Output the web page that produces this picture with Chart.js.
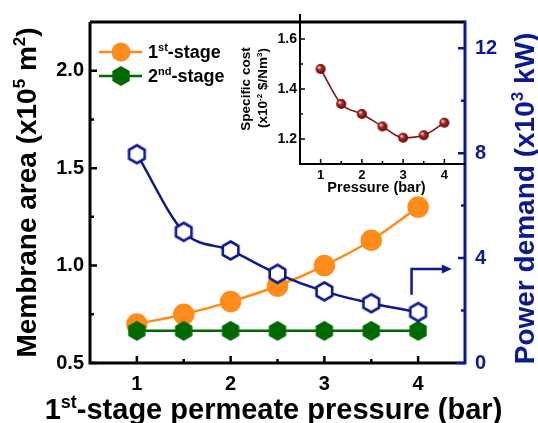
<!DOCTYPE html>
<html>
<head>
<meta charset="utf-8">
<script src="https://cdn.jsdelivr.net/npm/chart.js@4.4.1/dist/chart.umd.min.js"></script>
<style>
  body { margin: 0; background: #fff; }
  #wrap { position: relative; width: 538px; height: 423px; }
  #wrap canvas { position: absolute; left: 0; top: 0; }
</style>
</head>
<body>
<div id="wrap">
  <canvas id="main" width="538" height="423"></canvas>
  <canvas id="inset" width="538" height="423"></canvas>
</div>
<script>
// data
const pressure = [1, 1.5, 2, 2.5, 3, 3.5, 4];
const area1st = [0.70, 0.75, 0.815, 0.895, 1.00, 1.13, 1.30];
const area2nd = [0.665, 0.665, 0.665, 0.665, 0.665, 0.665, 0.665];
const powerDemand = [7.96, 5.00, 4.29, 3.40, 2.73, 2.28, 1.94];

const insetPressure = [1, 1.5, 2, 2.5, 3, 3.5, 4];
const specificCost = [1.48, 1.34, 1.30, 1.25, 1.205, 1.215, 1.265];

// tick labels
const xTicks = [1, 2, 3, 4];
const xMinor = [1.5, 2.5, 3.5];
const areaTicks = [0.5, 1.0, 1.5, 2.0];
const areaMinor = [0.75, 1.25, 1.75];
const powerTicks = [0, 4, 8, 12];
const powerMinor = [2, 6, 10];
const insetXTicks = [1, 2, 3, 4];
const insetXMinor = [1.5, 2.5, 3.5];
const insetYTicks = [1.2, 1.4, 1.6];
const insetYMinor = [1.3, 1.5];

// arrow pointing at the power axis, in (pressure, power) units
const arrowPath = [[3.93, 2.6], [3.93, 3.58], [4.36, 3.58]];

const ORANGE = "#ff8c1a";
const GREEN = "#006a00";
const BLUE = "#0d1a8c";
const DARKRED = "#8a1212";
const FONT = '"Liberation Sans", Arial, sans-serif';

Chart.defaults.font.family = FONT;
Chart.defaults.font.weight = "bold";

const useTicks = (list) => (s) => { s.ticks = list.map((v) => ({ value: v })); };

function hexagon(r, fill, stroke, lw) {
  const s = Math.ceil(2 * r + lw + 2);
  const c = document.createElement("canvas");
  c.width = c.height = s;
  const g = c.getContext("2d");
  g.beginPath();
  for (let i = 0; i < 6; i++) {
    const a = (Math.PI / 3) * i - Math.PI / 2;
    g.lineTo(s / 2 + r * Math.cos(a), s / 2 + r * Math.sin(a));
  }
  g.closePath();
  g.fillStyle = fill;
  g.fill();
  if (stroke) {
    g.lineWidth = lw;
    g.strokeStyle = stroke;
    g.stroke();
  }
  return c;
}

function sphere(r, color) {
  const s = 2 * r + 2;
  const c = document.createElement("canvas");
  c.width = c.height = s;
  const g = c.getContext("2d");
  const grad = g.createRadialGradient(s / 2 - r * 0.35, s / 2 - r * 0.35, 0.5, s / 2, s / 2, r);
  grad.addColorStop(0, "#f4d0d0");
  grad.addColorStop(0.35, "#b02a2a");
  grad.addColorStop(1, color);
  g.beginPath();
  g.arc(s / 2, s / 2, r, 0, Math.PI * 2);
  g.fillStyle = grad;
  g.fill();
  return c;
}

const greenHex = hexagon(10, GREEN, null, 0);
const blueHex = hexagon(9, "#fff", BLUE, 2.6);
const redBall = sphere(5, "#5a0606");

// text with superscripts: parts = [[text, isSup], ...]
function richText(ctx, parts, size, x, y, align, color, rot) {
  ctx.save();
  ctx.translate(x, y);
  if (rot) ctx.rotate(rot);
  ctx.fillStyle = color;
  ctx.textBaseline = "alphabetic";
  ctx.textAlign = "left";
  const font = (sup) => `bold ${sup ? Math.round(size * 0.62) : size}px ${FONT}`;
  let w = 0;
  parts.forEach((p) => {
    ctx.font = font(p[1]);
    w += ctx.measureText(p[0]).width;
  });
  let cx = align === "center" ? -w / 2 : 0;
  parts.forEach((p) => {
    ctx.font = font(p[1]);
    ctx.fillText(p[0], cx, p[1] ? -size * 0.38 : 0);
    cx += ctx.measureText(p[0]).width;
  });
  ctx.restore();
}

function inwardTicks(ctx, chart, scaleId, side, vals, len) {
  const a = chart.chartArea;
  const s = chart.scales[scaleId];
  ctx.beginPath();
  vals.forEach((v) => {
    const p = s.getPixelForValue(v);
    if (side === "bottom") { ctx.moveTo(p, a.bottom); ctx.lineTo(p, a.bottom - len); }
    if (side === "left") { ctx.moveTo(a.left, p); ctx.lineTo(a.left + len, p); }
    if (side === "right") { ctx.moveTo(a.right, p); ctx.lineTo(a.right - len, p); }
  });
  ctx.stroke();
}

const mainDecor = {
  id: "mainDecor",
  afterDraw(chart) {
    const ctx = chart.ctx;
    const a = chart.chartArea;
    const { x, y2 } = chart.scales;
    ctx.save();

    // ticks
    ctx.lineWidth = 2.5;
    ctx.strokeStyle = "#000";
    inwardTicks(ctx, chart, "x", "bottom", xTicks, 7);
    inwardTicks(ctx, chart, "x", "bottom", xMinor, 4);
    inwardTicks(ctx, chart, "y", "left", areaTicks, 7);
    inwardTicks(ctx, chart, "y", "left", areaMinor, 4);
    ctx.strokeStyle = BLUE;
    inwardTicks(ctx, chart, "y2", "right", powerTicks, 7);
    inwardTicks(ctx, chart, "y2", "right", powerMinor, 4);

    // frame
    ctx.lineWidth = 3;
    ctx.strokeStyle = "#000";
    ctx.beginPath();
    ctx.moveTo(a.left, a.top);
    ctx.lineTo(a.right, a.top);
    ctx.moveTo(a.left, a.top);
    ctx.lineTo(a.left, a.bottom);
    ctx.lineTo(a.right - 8, a.bottom);
    ctx.stroke();
    ctx.strokeStyle = BLUE;
    ctx.beginPath();
    ctx.moveTo(a.right, a.top - 1.5);
    ctx.lineTo(a.right, a.bottom);
    ctx.lineTo(a.right - 9, a.bottom);
    ctx.stroke();

    // arrow
    ctx.lineWidth = 2.5;
    ctx.strokeStyle = BLUE;
    ctx.fillStyle = BLUE;
    const pts = arrowPath.map((p) => [x.getPixelForValue(p[0]), y2.getPixelForValue(p[1])]);
    const tip = pts[pts.length - 1];
    ctx.beginPath();
    ctx.moveTo(pts[0][0], pts[0][1]);
    ctx.lineTo(pts[1][0], pts[1][1]);
    ctx.lineTo(tip[0] - 8, tip[1]);
    ctx.stroke();
    ctx.beginPath();
    ctx.moveTo(tip[0], tip[1]);
    ctx.lineTo(tip[0] - 10, tip[1] - 4.5);
    ctx.lineTo(tip[0] - 10, tip[1] + 4.5);
    ctx.closePath();
    ctx.fill();

    // legend
    const legend = [
      { y: 52, color: ORANGE, mark: "circle", label: [["1", 0], ["st", 1], ["-stage", 0]] },
      { y: 76, color: GREEN, mark: greenHex, label: [["2", 0], ["nd", 1], ["-stage", 0]] },
    ];
    legend.forEach((l) => {
      ctx.strokeStyle = l.color;
      ctx.lineWidth = 2.5;
      ctx.beginPath();
      ctx.moveTo(99, l.y);
      ctx.lineTo(142, l.y);
      ctx.stroke();
      if (l.mark === "circle") {
        ctx.fillStyle = l.color;
        ctx.beginPath();
        ctx.arc(121, l.y, 9.5, 0, Math.PI * 2);
        ctx.fill();
      } else {
        ctx.drawImage(l.mark, 121 - l.mark.width / 2, l.y - l.mark.height / 2);
      }
      richText(ctx, l.label, 18, 148, l.y + 6, "left", "#000");
    });

    // axis titles
    richText(ctx, [["1", 0], ["st", 1], ["-stage permeate pressure (bar)", 0]], 29,
      (a.left + a.right) / 2 - 4, 419, "center", "#000");
    richText(ctx, [["Membrane area (x10", 0], ["5", 1], [" m", 0], ["2", 1], [")", 0]], 28,
      36, (a.top + a.bottom) / 2, "center", "#000", -Math.PI / 2);
    richText(ctx, [["Power demand (x10", 0], ["3", 1], [" kW)", 0]], 28,
      534, (a.top + a.bottom) / 2 + 6, "center", BLUE, -Math.PI / 2);

    ctx.restore();
  },
};

const insetDecor = {
  id: "insetDecor",
  afterDraw(chart) {
    const ctx = chart.ctx;
    const a = chart.chartArea;
    ctx.save();
    ctx.lineWidth = 1.5;
    ctx.strokeStyle = "#000";
    inwardTicks(ctx, chart, "x", "bottom", insetXTicks, 5);
    inwardTicks(ctx, chart, "x", "bottom", insetXMinor, 3);
    inwardTicks(ctx, chart, "y", "left", insetYTicks, 5);
    inwardTicks(ctx, chart, "y", "left", insetYMinor, 3);
    ctx.lineWidth = 2;
    ctx.beginPath();
    ctx.moveTo(a.left, a.top);
    ctx.lineTo(a.left, a.bottom);
    ctx.lineTo(a.right, a.bottom);
    ctx.stroke();

    richText(ctx, [["Pressure (bar)", 0]], 14.5, (a.left + a.right) / 2 - 6, 192, "center", "#000");
    richText(ctx, [["Specific cost", 0]], 13.5, 250, 89, "center", "#000", -Math.PI / 2);
    richText(ctx, [["(x10", 0], ["-2", 1], [" $/Nm", 0], ["3", 1], [")", 0]], 13.5,
      267, 88, "center", "#000", -Math.PI / 2);
    ctx.restore();
  },
};

const xy = (xs, ys) => xs.map((v, i) => ({ x: v, y: ys[i] }));

new Chart(document.getElementById("main"), {
  type: "line",
  data: {
    datasets: [
      {
        label: "Power demand",
        data: xy(pressure, powerDemand),
        yAxisID: "y2",
        borderColor: BLUE,
        borderWidth: 2.5,
        pointStyle: blueHex,
        tension: 0.4,
        cubicInterpolationMode: "monotone",
      },
      {
        label: "2nd-stage",
        data: xy(pressure, area2nd),
        yAxisID: "y",
        borderColor: GREEN,
        borderWidth: 2.5,
        pointStyle: greenHex,
      },
      {
        label: "1st-stage",
        data: xy(pressure, area1st),
        yAxisID: "y",
        borderColor: ORANGE,
        backgroundColor: ORANGE,
        borderWidth: 2.5,
        pointStyle: "circle",
        pointRadius: 9.5,
        tension: 0.4,
        cubicInterpolationMode: "monotone",
      },
    ],
  },
  options: {
    responsive: false,
    animation: false,
    layout: { padding: { top: 13 } },
    plugins: { legend: { display: false }, tooltip: { enabled: false } },
    scales: {
      x: {
        type: "linear",
        min: 0.5,
        max: 4.5,
        grid: { display: false, drawTicks: false },
        border: { display: false },
        afterBuildTicks: useTicks(xTicks),
        ticks: {
          autoSkip: false,
          maxRotation: 0,
          padding: 9,
          color: "#000",
          font: { size: 20, weight: "bold" },
          callback: (v) => String(v),
        },
        afterFit: (s) => { s.height = 60; },
      },
      y: {
        position: "left",
        min: 0.5,
        max: 2.25,
        grid: { display: false, drawTicks: false },
        border: { display: false },
        afterBuildTicks: useTicks(areaTicks),
        ticks: {
          autoSkip: false,
          padding: 6,
          color: "#000",
          font: { size: 20, weight: "bold" },
          callback: (v) => v.toFixed(1),
        },
        afterFit: (s) => { s.width = 90; },
      },
      y2: {
        position: "right",
        min: 0,
        max: 13,
        grid: { display: false, drawTicks: false },
        border: { display: false },
        afterBuildTicks: useTicks(powerTicks),
        ticks: {
          autoSkip: false,
          padding: 10,
          color: BLUE,
          font: { size: 20, weight: "bold" },
          callback: (v) => String(v),
        },
        afterFit: (s) => { s.width = 73; },
      },
    },
  },
  plugins: [mainDecor],
});

new Chart(document.getElementById("inset"), {
  type: "line",
  data: {
    datasets: [
      {
        label: "Specific cost",
        data: xy(insetPressure, specificCost),
        borderColor: DARKRED,
        borderWidth: 1.6,
        pointStyle: redBall,
        tension: 0.4,
        cubicInterpolationMode: "monotone",
      },
    ],
  },
  options: {
    responsive: false,
    animation: false,
    layout: { padding: { left: 240, top: 14, right: 73, bottom: 219 } },
    plugins: { legend: { display: false }, tooltip: { enabled: false } },
    scales: {
      x: {
        type: "linear",
        min: 0.5,
        max: 4.5,
        grid: { display: false, drawTicks: false },
        border: { display: false },
        afterBuildTicks: useTicks(insetXTicks),
        ticks: {
          autoSkip: false,
          maxRotation: 0,
          padding: 4,
          color: "#000",
          font: { size: 13, weight: "bold" },
          callback: (v) => String(v),
        },
        afterFit: (s) => { s.height = 40; },
      },
      y: {
        min: 1.1,
        max: 1.7,
        grid: { display: false, drawTicks: false },
        border: { display: false },
        afterBuildTicks: useTicks(insetYTicks),
        ticks: {
          autoSkip: false,
          padding: 3,
          color: "#000",
          font: { size: 14, weight: "bold" },
          callback: (v) => v.toFixed(1),
        },
        afterFit: (s) => { s.width = 60; },
      },
    },
  },
  plugins: [insetDecor],
});
</script>
</body>
</html>
